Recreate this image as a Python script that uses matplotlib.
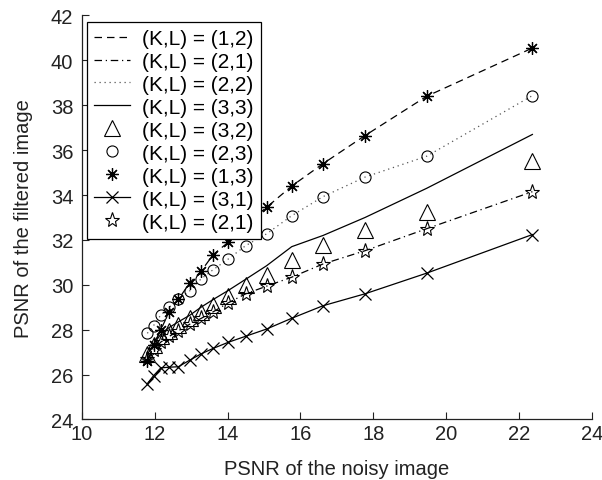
import matplotlib
matplotlib.use("Agg")
import matplotlib.pyplot as plt
import numpy as np

plt.rcParams['font.family'] = ['Liberation Sans', 'DejaVu Sans']

# PSNR of the noisy image (shared by all series)
noisy = [11.8, 11.97, 12.17, 12.4, 12.65, 12.97, 13.27, 13.61, 14.02, 14.5,
         15.07, 15.76, 16.62, 17.77, 19.46, 22.36]

# PSNR of the filtered image
kl_13 = [26.6, 27.3, 28.0, 28.8, 29.35, 30.1, 30.6, 31.35, 31.9, 32.7,
         33.45, 34.4, 35.4, 36.65, 38.4, 40.55]
kl_23 = [27.84, 28.18, 28.66, 29.0, 29.37, 29.74, 30.26, 30.68, 31.15, 31.75,
         32.27, 33.08, 33.93, 34.8, 35.73, 38.43]
kl_33 = [26.9, 27.35, 27.8, 28.1, 28.35, 28.65, 29.0, 29.35, 29.75, 30.25,
         30.85, 31.7, 32.2, 33.0, 34.3, 36.7]
kl_32 = [26.9, 27.3, 27.7, 27.95, 28.2, 28.5, 28.8, 29.1, 29.5, 30.0,
         30.45, 31.1, 31.78, 32.45, 33.26, 35.5]
kl_21 = [26.7, 27.1, 27.45, 27.7, 27.95, 28.25, 28.5, 28.8, 29.2, 29.6,
         29.94, 30.34, 30.93, 31.52, 32.5, 34.15]
kl_31 = [25.6, 25.95, 26.3, 26.33, 26.35, 26.65, 26.92, 27.17, 27.44, 27.71,
         28.03, 28.51, 29.07, 29.6, 30.52, 32.24]

fig = plt.figure(figsize=(6.02, 4.81), dpi=100)
ax = fig.add_axes([0.1357, 0.1258, 0.848, 0.8399])

k = 'black'
fs = 14.5
ax.plot(noisy, kl_13, color=k, lw=0.9, ls=(0, (6, 4)), label='(K,L) = (1,2)')
ax.plot(noisy, kl_21, color=k, lw=0.9, ls=(0, (6, 3, 1, 3)), label='(K,L) = (2,1)')
ax.plot(noisy, kl_23, color='#555555', lw=0.9, ls=(0, (1, 3)), label='(K,L) = (2,2)')
ax.plot(noisy, kl_33, color=k, lw=0.9, ls='-', label='(K,L) = (3,3)')
ax.plot(noisy, kl_32, ls='none', marker='^', ms=11, mfc='none', mec=k, mew=0.8,
        label='(K,L) = (3,2)')
ax.plot(noisy, kl_23, ls='none', marker='o', ms=8, mfc='none', mec=k, mew=0.8,
        label='(K,L) = (2,3)')
ax.plot(noisy, kl_13, ls='none', marker=(8, 2, 0), ms=9, mec=k, mew=0.9,
        label='(K,L) = (1,3)')
ax.plot(noisy, kl_31, color=k, lw=0.9, marker='x', ms=9, mew=0.9,
        label='(K,L) = (3,1)')
ax.plot(noisy, kl_21, ls='none', marker='*', ms=11, mfc='none', mec=k, mew=0.8,
        label='(K,L) = (2,1)')

ax.set_xlim(10, 24)
ax.set_ylim(24, 42)
ax.set_xticks(np.arange(10, 25, 2))
ax.set_yticks(np.arange(24, 43, 2))
ax.tick_params(direction='in', length=5, width=0.8, labelsize=fs, colors='#222222')
ax.tick_params(axis='y', pad=6)
ax.tick_params(axis='x', pad=3)
for s in ['top', 'right']:
    ax.spines[s].set_visible(False)
for s in ['left', 'bottom']:
    ax.spines[s].set_linewidth(0.9)
    ax.spines[s].set_color('#222222')

ax.set_xlabel('PSNR of the noisy image', fontsize=fs, color='#222222', labelpad=12)
ax.set_ylabel('PSNR of the filtered image', fontsize=fs, color='#222222', labelpad=13)

leg = ax.legend(loc='upper left', bbox_to_anchor=(0.01, 0.985), fontsize=15,
                frameon=True, fancybox=False, edgecolor=k, framealpha=1,
                handlelength=1.7, labelspacing=0.19, borderpad=0.35,
                handletextpad=0.6, borderaxespad=0)
leg.get_frame().set_linewidth(0.9)

fig.savefig('out.png', dpi=100)
